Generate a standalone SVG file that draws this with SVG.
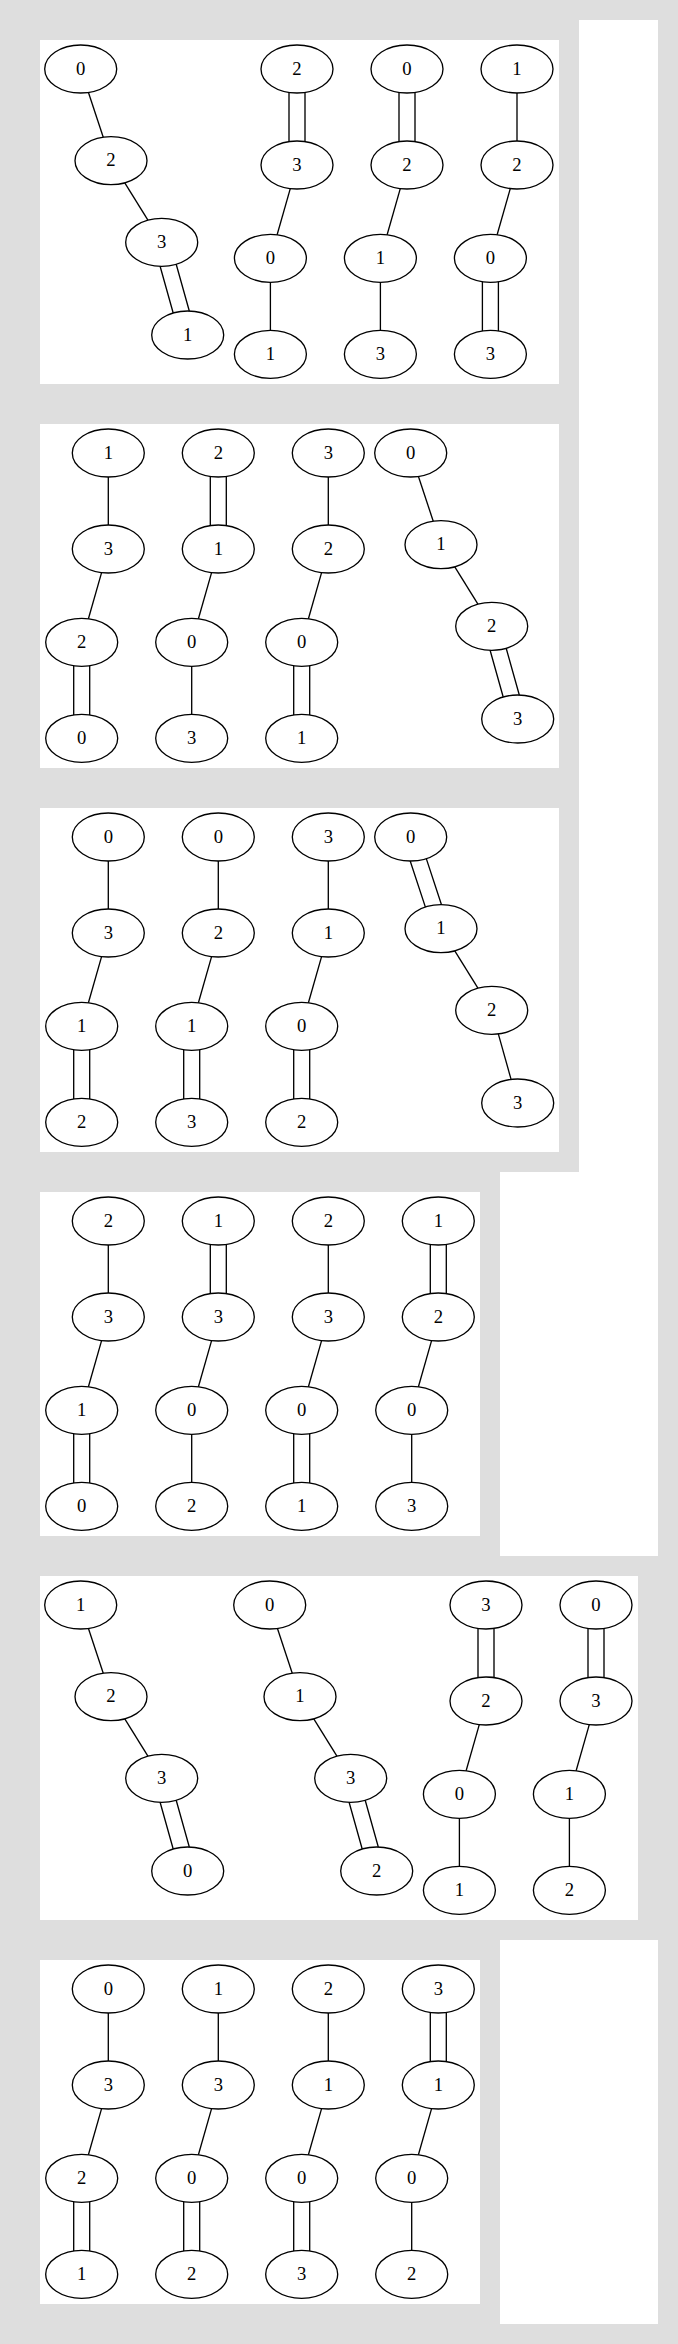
<svg xmlns="http://www.w3.org/2000/svg" width="678" height="2344" viewBox="0 0 678 2344">
<style>
.bg{fill:#dedede}
.panel{fill:#ffffff;stroke:none}
.node ellipse{fill:none;stroke:#000;stroke-width:1.33}
.node text{font-family:"Liberation Serif","Times New Roman",serif;font-size:18.67px;text-anchor:middle;fill:#000}
#edges path{fill:none;stroke:#000;stroke-width:1.33}
</style>
<rect class="bg" x="0" y="0" width="678" height="2344"/>
<g id="frames">
<rect class="panel" x="579" y="20" width="79" height="1536"/>
<rect class="panel" x="500" y="1172" width="158" height="384"/>
<rect class="panel" x="500" y="1940" width="158" height="384"/>
<rect id="panel1" class="panel" x="40" y="40" width="519" height="344"/>
<rect id="panel2" class="panel" x="40" y="424" width="519" height="344"/>
<rect id="panel3" class="panel" x="40" y="808" width="519" height="344"/>
<rect id="panel4" class="panel" x="40" y="1192" width="440" height="344"/>
<rect id="panel5" class="panel" x="40" y="1576" width="598" height="344"/>
<rect id="panel6" class="panel" x="40" y="1960" width="440" height="344"/>
</g>
<g id="edges">
<!-- panel 1 -->
<g transform="translate(80.7,40)"><path d="M7.75,52.44 L22.55,97.26"/><path d="M44.08,142.87 L67.22,180.13"/><path d="M95.5,224.3 L108.6,271 M79.4,226.3 L92.5,273"/></g>
<g transform="translate(297,40)"><path d="M-8,52.4 V101.6 M8,52.4 V101.6"/><path d="M-6.72,148.58 L-19.88,194.72"/><path d="M-26.6,242.3 V290.3"/></g>
<g transform="translate(407,40)"><path d="M-8,52.4 V101.6 M8,52.4 V101.6"/><path d="M-6.72,148.58 L-19.88,194.72"/><path d="M-26.6,242.3 V290.3"/></g>
<g transform="translate(517,40)"><path d="M0,53 V101"/><path d="M-6.72,148.58 L-19.88,194.72"/><path d="M-34.6,241.7 V290.9 M-18.6,241.7 V290.9"/></g>
<!-- panel 2 -->
<g transform="translate(108.3,424)"><path d="M0,53 V101"/><path d="M-6.72,148.58 L-19.88,194.72"/><path d="M-34.6,241.7 V290.9 M-18.6,241.7 V290.9"/></g>
<g transform="translate(218.3,424)"><path d="M-8,52.4 V101.6 M8,52.4 V101.6"/><path d="M-6.72,148.58 L-19.88,194.72"/><path d="M-26.6,242.3 V290.3"/></g>
<g transform="translate(328.3,424)"><path d="M0,53 V101"/><path d="M-6.72,148.58 L-19.88,194.72"/><path d="M-34.6,241.7 V290.9 M-18.6,241.7 V290.9"/></g>
<g transform="translate(410.7,424)"><path d="M7.75,52.44 L22.55,97.26"/><path d="M44.08,142.87 L67.22,180.13"/><path d="M95.5,224.3 L108.6,271 M79.4,226.3 L92.5,273"/></g>
<!-- panel 3 -->
<g transform="translate(108.3,808)"><path d="M0,53 V101"/><path d="M-6.72,148.58 L-19.88,194.72"/><path d="M-34.6,241.7 V290.9 M-18.6,241.7 V290.9"/></g>
<g transform="translate(218.3,808)"><path d="M0,53 V101"/><path d="M-6.72,148.58 L-19.88,194.72"/><path d="M-34.6,241.7 V290.9 M-18.6,241.7 V290.9"/></g>
<g transform="translate(328.3,808)"><path d="M0,53 V101"/><path d="M-6.72,148.58 L-19.88,194.72"/><path d="M-34.6,241.7 V290.9 M-18.6,241.7 V290.9"/></g>
<g transform="translate(410.7,808)"><path d="M15.6,50.6 L30.8,96.7 M-0.5,53 L14.7,99.1"/><path d="M44.08,142.87 L67.22,180.13"/><path d="M87.62,225.89 L100.38,271.41"/></g>
<!-- panel 4 -->
<g transform="translate(108.3,1192)"><path d="M0,53 V101"/><path d="M-6.72,148.58 L-19.88,194.72"/><path d="M-34.6,241.7 V290.9 M-18.6,241.7 V290.9"/></g>
<g transform="translate(218.3,1192)"><path d="M-8,52.4 V101.6 M8,52.4 V101.6"/><path d="M-6.72,148.58 L-19.88,194.72"/><path d="M-26.6,242.3 V290.3"/></g>
<g transform="translate(328.3,1192)"><path d="M0,53 V101"/><path d="M-6.72,148.58 L-19.88,194.72"/><path d="M-34.6,241.7 V290.9 M-18.6,241.7 V290.9"/></g>
<g transform="translate(438.3,1192)"><path d="M-8,52.4 V101.6 M8,52.4 V101.6"/><path d="M-6.72,148.58 L-19.88,194.72"/><path d="M-26.6,242.3 V290.3"/></g>
<!-- panel 5 -->
<g transform="translate(80.7,1576)"><path d="M7.75,52.44 L22.55,97.26"/><path d="M44.08,142.87 L67.22,180.13"/><path d="M95.5,224.3 L108.6,271 M79.4,226.3 L92.5,273"/></g>
<g transform="translate(269.7,1576)"><path d="M7.75,52.44 L22.55,97.26"/><path d="M44.08,142.87 L67.22,180.13"/><path d="M95.5,224.3 L108.6,271 M79.4,226.3 L92.5,273"/></g>
<g transform="translate(486,1576)"><path d="M-8,52.4 V101.6 M8,52.4 V101.6"/><path d="M-6.72,148.58 L-19.88,194.72"/><path d="M-26.6,242.3 V290.3"/></g>
<g transform="translate(596,1576)"><path d="M-8,52.4 V101.6 M8,52.4 V101.6"/><path d="M-6.72,148.58 L-19.88,194.72"/><path d="M-26.6,242.3 V290.3"/></g>
<!-- panel 6 -->
<g transform="translate(108.3,1960)"><path d="M0,53 V101"/><path d="M-6.72,148.58 L-19.88,194.72"/><path d="M-34.6,241.7 V290.9 M-18.6,241.7 V290.9"/></g>
<g transform="translate(218.3,1960)"><path d="M0,53 V101"/><path d="M-6.72,148.58 L-19.88,194.72"/><path d="M-34.6,241.7 V290.9 M-18.6,241.7 V290.9"/></g>
<g transform="translate(328.3,1960)"><path d="M0,53 V101"/><path d="M-6.72,148.58 L-19.88,194.72"/><path d="M-34.6,241.7 V290.9 M-18.6,241.7 V290.9"/></g>
<g transform="translate(438.3,1960)"><path d="M-8,52.4 V101.6 M8,52.4 V101.6"/><path d="M-6.72,148.58 L-19.88,194.72"/><path d="M-26.6,242.3 V290.3"/></g>
</g>
<g id="nodes">
<!-- panel 1 -->
<g id="p1a1" class="node" transform="translate(80.7,69)"><ellipse rx="36" ry="24"/><text y="5.6">0</text></g>
<g id="p1a2" class="node" transform="translate(111,160.7)"><ellipse rx="36" ry="24"/><text y="5.6">2</text></g>
<g id="p1a3" class="node" transform="translate(161.7,242.3)"><ellipse rx="36" ry="24"/><text y="5.6">3</text></g>
<g id="p1a4" class="node" transform="translate(187.7,335)"><ellipse rx="36" ry="24"/><text y="5.6">1</text></g>
<g id="p1b1" class="node" transform="translate(297,69)"><ellipse rx="36" ry="24"/><text y="5.6">2</text></g>
<g id="p1b2" class="node" transform="translate(297,165)"><ellipse rx="36" ry="24"/><text y="5.6">3</text></g>
<g id="p1b3" class="node" transform="translate(270.4,258.3)"><ellipse rx="36" ry="24"/><text y="5.6">0</text></g>
<g id="p1b4" class="node" transform="translate(270.4,354.3)"><ellipse rx="36" ry="24"/><text y="5.6">1</text></g>
<g id="p1c1" class="node" transform="translate(407,69)"><ellipse rx="36" ry="24"/><text y="5.6">0</text></g>
<g id="p1c2" class="node" transform="translate(407,165)"><ellipse rx="36" ry="24"/><text y="5.6">2</text></g>
<g id="p1c3" class="node" transform="translate(380.4,258.3)"><ellipse rx="36" ry="24"/><text y="5.6">1</text></g>
<g id="p1c4" class="node" transform="translate(380.4,354.3)"><ellipse rx="36" ry="24"/><text y="5.6">3</text></g>
<g id="p1d1" class="node" transform="translate(517,69)"><ellipse rx="36" ry="24"/><text y="5.6">1</text></g>
<g id="p1d2" class="node" transform="translate(517,165)"><ellipse rx="36" ry="24"/><text y="5.6">2</text></g>
<g id="p1d3" class="node" transform="translate(490.4,258.3)"><ellipse rx="36" ry="24"/><text y="5.6">0</text></g>
<g id="p1d4" class="node" transform="translate(490.4,354.3)"><ellipse rx="36" ry="24"/><text y="5.6">3</text></g>
<!-- panel 2 -->
<g id="p2a1" class="node" transform="translate(108.3,453)"><ellipse rx="36" ry="24"/><text y="5.6">1</text></g>
<g id="p2a2" class="node" transform="translate(108.3,549)"><ellipse rx="36" ry="24"/><text y="5.6">3</text></g>
<g id="p2a3" class="node" transform="translate(81.7,642.3)"><ellipse rx="36" ry="24"/><text y="5.6">2</text></g>
<g id="p2a4" class="node" transform="translate(81.7,738.3)"><ellipse rx="36" ry="24"/><text y="5.6">0</text></g>
<g id="p2b1" class="node" transform="translate(218.3,453)"><ellipse rx="36" ry="24"/><text y="5.6">2</text></g>
<g id="p2b2" class="node" transform="translate(218.3,549)"><ellipse rx="36" ry="24"/><text y="5.6">1</text></g>
<g id="p2b3" class="node" transform="translate(191.7,642.3)"><ellipse rx="36" ry="24"/><text y="5.6">0</text></g>
<g id="p2b4" class="node" transform="translate(191.7,738.3)"><ellipse rx="36" ry="24"/><text y="5.6">3</text></g>
<g id="p2c1" class="node" transform="translate(328.3,453)"><ellipse rx="36" ry="24"/><text y="5.6">3</text></g>
<g id="p2c2" class="node" transform="translate(328.3,549)"><ellipse rx="36" ry="24"/><text y="5.6">2</text></g>
<g id="p2c3" class="node" transform="translate(301.7,642.3)"><ellipse rx="36" ry="24"/><text y="5.6">0</text></g>
<g id="p2c4" class="node" transform="translate(301.7,738.3)"><ellipse rx="36" ry="24"/><text y="5.6">1</text></g>
<g id="p2d1" class="node" transform="translate(410.7,453)"><ellipse rx="36" ry="24"/><text y="5.6">0</text></g>
<g id="p2d2" class="node" transform="translate(441,544.7)"><ellipse rx="36" ry="24"/><text y="5.6">1</text></g>
<g id="p2d3" class="node" transform="translate(491.7,626.3)"><ellipse rx="36" ry="24"/><text y="5.6">2</text></g>
<g id="p2d4" class="node" transform="translate(517.7,719)"><ellipse rx="36" ry="24"/><text y="5.6">3</text></g>
<!-- panel 3 -->
<g id="p3a1" class="node" transform="translate(108.3,837)"><ellipse rx="36" ry="24"/><text y="5.6">0</text></g>
<g id="p3a2" class="node" transform="translate(108.3,933)"><ellipse rx="36" ry="24"/><text y="5.6">3</text></g>
<g id="p3a3" class="node" transform="translate(81.7,1026.3)"><ellipse rx="36" ry="24"/><text y="5.6">1</text></g>
<g id="p3a4" class="node" transform="translate(81.7,1122.3)"><ellipse rx="36" ry="24"/><text y="5.6">2</text></g>
<g id="p3b1" class="node" transform="translate(218.3,837)"><ellipse rx="36" ry="24"/><text y="5.6">0</text></g>
<g id="p3b2" class="node" transform="translate(218.3,933)"><ellipse rx="36" ry="24"/><text y="5.6">2</text></g>
<g id="p3b3" class="node" transform="translate(191.7,1026.3)"><ellipse rx="36" ry="24"/><text y="5.6">1</text></g>
<g id="p3b4" class="node" transform="translate(191.7,1122.3)"><ellipse rx="36" ry="24"/><text y="5.6">3</text></g>
<g id="p3c1" class="node" transform="translate(328.3,837)"><ellipse rx="36" ry="24"/><text y="5.6">3</text></g>
<g id="p3c2" class="node" transform="translate(328.3,933)"><ellipse rx="36" ry="24"/><text y="5.6">1</text></g>
<g id="p3c3" class="node" transform="translate(301.7,1026.3)"><ellipse rx="36" ry="24"/><text y="5.6">0</text></g>
<g id="p3c4" class="node" transform="translate(301.7,1122.3)"><ellipse rx="36" ry="24"/><text y="5.6">2</text></g>
<g id="p3d1" class="node" transform="translate(410.7,837)"><ellipse rx="36" ry="24"/><text y="5.6">0</text></g>
<g id="p3d2" class="node" transform="translate(441,928.7)"><ellipse rx="36" ry="24"/><text y="5.6">1</text></g>
<g id="p3d3" class="node" transform="translate(491.7,1010.3)"><ellipse rx="36" ry="24"/><text y="5.6">2</text></g>
<g id="p3d4" class="node" transform="translate(517.7,1103)"><ellipse rx="36" ry="24"/><text y="5.6">3</text></g>
<!-- panel 4 -->
<g id="p4a1" class="node" transform="translate(108.3,1221)"><ellipse rx="36" ry="24"/><text y="5.6">2</text></g>
<g id="p4a2" class="node" transform="translate(108.3,1317)"><ellipse rx="36" ry="24"/><text y="5.6">3</text></g>
<g id="p4a3" class="node" transform="translate(81.7,1410.3)"><ellipse rx="36" ry="24"/><text y="5.6">1</text></g>
<g id="p4a4" class="node" transform="translate(81.7,1506.3)"><ellipse rx="36" ry="24"/><text y="5.6">0</text></g>
<g id="p4b1" class="node" transform="translate(218.3,1221)"><ellipse rx="36" ry="24"/><text y="5.6">1</text></g>
<g id="p4b2" class="node" transform="translate(218.3,1317)"><ellipse rx="36" ry="24"/><text y="5.6">3</text></g>
<g id="p4b3" class="node" transform="translate(191.7,1410.3)"><ellipse rx="36" ry="24"/><text y="5.6">0</text></g>
<g id="p4b4" class="node" transform="translate(191.7,1506.3)"><ellipse rx="36" ry="24"/><text y="5.6">2</text></g>
<g id="p4c1" class="node" transform="translate(328.3,1221)"><ellipse rx="36" ry="24"/><text y="5.6">2</text></g>
<g id="p4c2" class="node" transform="translate(328.3,1317)"><ellipse rx="36" ry="24"/><text y="5.6">3</text></g>
<g id="p4c3" class="node" transform="translate(301.7,1410.3)"><ellipse rx="36" ry="24"/><text y="5.6">0</text></g>
<g id="p4c4" class="node" transform="translate(301.7,1506.3)"><ellipse rx="36" ry="24"/><text y="5.6">1</text></g>
<g id="p4d1" class="node" transform="translate(438.3,1221)"><ellipse rx="36" ry="24"/><text y="5.6">1</text></g>
<g id="p4d2" class="node" transform="translate(438.3,1317)"><ellipse rx="36" ry="24"/><text y="5.6">2</text></g>
<g id="p4d3" class="node" transform="translate(411.7,1410.3)"><ellipse rx="36" ry="24"/><text y="5.6">0</text></g>
<g id="p4d4" class="node" transform="translate(411.7,1506.3)"><ellipse rx="36" ry="24"/><text y="5.6">3</text></g>
<!-- panel 5 -->
<g id="p5a1" class="node" transform="translate(80.7,1605)"><ellipse rx="36" ry="24"/><text y="5.6">1</text></g>
<g id="p5a2" class="node" transform="translate(111,1696.7)"><ellipse rx="36" ry="24"/><text y="5.6">2</text></g>
<g id="p5a3" class="node" transform="translate(161.7,1778.3)"><ellipse rx="36" ry="24"/><text y="5.6">3</text></g>
<g id="p5a4" class="node" transform="translate(187.7,1871)"><ellipse rx="36" ry="24"/><text y="5.6">0</text></g>
<g id="p5b1" class="node" transform="translate(269.7,1605)"><ellipse rx="36" ry="24"/><text y="5.6">0</text></g>
<g id="p5b2" class="node" transform="translate(300,1696.7)"><ellipse rx="36" ry="24"/><text y="5.6">1</text></g>
<g id="p5b3" class="node" transform="translate(350.7,1778.3)"><ellipse rx="36" ry="24"/><text y="5.6">3</text></g>
<g id="p5b4" class="node" transform="translate(376.7,1871)"><ellipse rx="36" ry="24"/><text y="5.6">2</text></g>
<g id="p5c1" class="node" transform="translate(486,1605)"><ellipse rx="36" ry="24"/><text y="5.6">3</text></g>
<g id="p5c2" class="node" transform="translate(486,1701)"><ellipse rx="36" ry="24"/><text y="5.6">2</text></g>
<g id="p5c3" class="node" transform="translate(459.4,1794.3)"><ellipse rx="36" ry="24"/><text y="5.6">0</text></g>
<g id="p5c4" class="node" transform="translate(459.4,1890.3)"><ellipse rx="36" ry="24"/><text y="5.6">1</text></g>
<g id="p5d1" class="node" transform="translate(596,1605)"><ellipse rx="36" ry="24"/><text y="5.6">0</text></g>
<g id="p5d2" class="node" transform="translate(596,1701)"><ellipse rx="36" ry="24"/><text y="5.6">3</text></g>
<g id="p5d3" class="node" transform="translate(569.4,1794.3)"><ellipse rx="36" ry="24"/><text y="5.6">1</text></g>
<g id="p5d4" class="node" transform="translate(569.4,1890.3)"><ellipse rx="36" ry="24"/><text y="5.6">2</text></g>
<!-- panel 6 -->
<g id="p6a1" class="node" transform="translate(108.3,1989)"><ellipse rx="36" ry="24"/><text y="5.6">0</text></g>
<g id="p6a2" class="node" transform="translate(108.3,2085)"><ellipse rx="36" ry="24"/><text y="5.6">3</text></g>
<g id="p6a3" class="node" transform="translate(81.7,2178.3)"><ellipse rx="36" ry="24"/><text y="5.6">2</text></g>
<g id="p6a4" class="node" transform="translate(81.7,2274.3)"><ellipse rx="36" ry="24"/><text y="5.6">1</text></g>
<g id="p6b1" class="node" transform="translate(218.3,1989)"><ellipse rx="36" ry="24"/><text y="5.6">1</text></g>
<g id="p6b2" class="node" transform="translate(218.3,2085)"><ellipse rx="36" ry="24"/><text y="5.6">3</text></g>
<g id="p6b3" class="node" transform="translate(191.7,2178.3)"><ellipse rx="36" ry="24"/><text y="5.6">0</text></g>
<g id="p6b4" class="node" transform="translate(191.7,2274.3)"><ellipse rx="36" ry="24"/><text y="5.6">2</text></g>
<g id="p6c1" class="node" transform="translate(328.3,1989)"><ellipse rx="36" ry="24"/><text y="5.6">2</text></g>
<g id="p6c2" class="node" transform="translate(328.3,2085)"><ellipse rx="36" ry="24"/><text y="5.6">1</text></g>
<g id="p6c3" class="node" transform="translate(301.7,2178.3)"><ellipse rx="36" ry="24"/><text y="5.6">0</text></g>
<g id="p6c4" class="node" transform="translate(301.7,2274.3)"><ellipse rx="36" ry="24"/><text y="5.6">3</text></g>
<g id="p6d1" class="node" transform="translate(438.3,1989)"><ellipse rx="36" ry="24"/><text y="5.6">3</text></g>
<g id="p6d2" class="node" transform="translate(438.3,2085)"><ellipse rx="36" ry="24"/><text y="5.6">1</text></g>
<g id="p6d3" class="node" transform="translate(411.7,2178.3)"><ellipse rx="36" ry="24"/><text y="5.6">0</text></g>
<g id="p6d4" class="node" transform="translate(411.7,2274.3)"><ellipse rx="36" ry="24"/><text y="5.6">2</text></g>
</g>
</svg>
